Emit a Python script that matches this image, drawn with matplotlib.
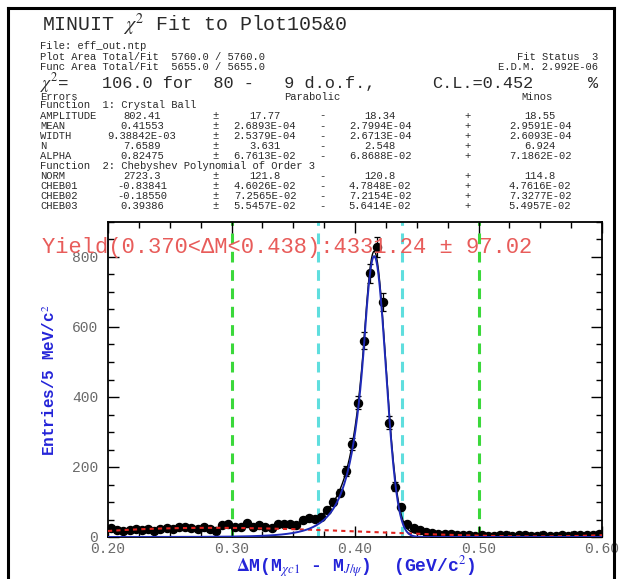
import numpy as np
import matplotlib
matplotlib.use("Agg")
import matplotlib.pyplot as plt
from matplotlib.lines import Line2D
from matplotlib.ticker import MultipleLocator

plt.rcParams['mathtext.fontset'] = 'stix'
MONO = 'Liberation Mono'

# histogram: 80 bins of 5 MeV between 0.20 and 0.60
bin_lo, bin_hi, nbins = 0.20, 0.60, 80
counts = [25, 20, 18, 20, 24, 20, 22, 18, 24, 26,
          23, 28, 29, 26, 24, 30, 23, 18, 35, 36,
          28, 30, 40, 28, 35, 30, 27, 38, 38, 37,
          35, 50, 53, 52, 58, 77, 101, 127, 189, 266,
          384, 561, 753, 829, 672, 327, 144, 85, 36, 26,
          20, 14, 11, 9, 8, 8, 7, 6, 5, 4,
          5, 3, 4, 6, 5, 4, 7, 5, 3, 4,
          5, 3, 4, 5, 4, 6, 5, 6, 7, 8]

# fit results
cb_amp, cb_mean, cb_width, cb_n, cb_alpha = 802.41, 0.41553, 9.38842e-03, 7.6589, 0.82475
cheb = [1.0, -0.83841, -0.18550, 0.39386]
func_area = 5655.0
signal_window = (0.370, 0.438)
fit_window = (0.30, 0.50)

par_names = ["AMPLITUDE", "MEAN", "WIDTH", "N", "ALPHA"]
par_vals = ["802.41", "0.41553", "9.38842E-03", "7.6589", "0.82475"]
par_err = ["17.77", "2.6893E-04", "2.5379E-04", "3.631", "6.7613E-02"]
par_lo = ["18.34", "2.7994E-04", "2.6713E-04", "2.548", "6.8688E-02"]
par_hi = ["18.55", "2.9591E-04", "2.6093E-04", "6.924", "7.1862E-02"]

bkg_names = ["NORM", "CHEB01", "CHEB02", "CHEB03"]
bkg_vals = ["2723.3", "-0.83841", "-0.18550", "0.39386"]
bkg_err = ["121.8", "4.6026E-02", "7.2565E-02", "5.5457E-02"]
bkg_lo = ["120.8", "4.7848E-02", "7.2154E-02", "5.6414E-02"]
bkg_hi = ["114.8", "4.7616E-02", "7.3277E-02", "5.4957E-02"]

yield_text = "Yield(0.370<\u0394M<0.438):4331.24 \u00b1 97.02"


def crystal_ball(x):
    t = (x - cb_mean) / cb_width
    a = abs(cb_alpha)
    A = (cb_n / a) ** cb_n * np.exp(-a * a / 2)
    B = cb_n / a - a
    core = np.exp(-t * t / 2)
    tail = A / np.power(np.maximum(B - t, 1e-9), cb_n)
    return cb_amp * np.where(t > -a, core, tail)


def cheb_shape(x):
    u = (x - 0.5 * (bin_lo + bin_hi)) / (0.5 * (bin_hi - bin_lo))
    return np.polynomial.chebyshev.chebval(u, cheb)


width = (bin_hi - bin_lo) / nbins
centers = bin_lo + width * (np.arange(nbins) + 0.5)
counts = np.array(counts, dtype=float)
# background scaled so signal + background carries the fitted function area
bkg_scale = (func_area - crystal_ball(centers).sum()) / cheb_shape(centers).sum()

xs = np.linspace(bin_lo, bin_hi, 1601)
sig = crystal_ball(xs)
bkg = bkg_scale * cheb_shape(xs)

W, H = 622, 579
fig = plt.figure(figsize=(W / 100, H / 100), dpi=100)
TXT = '#2a2a2a'


def ftext(x, y, s, **kw):
    kw.setdefault('family', MONO)
    kw.setdefault('va', 'center')
    kw.setdefault('color', TXT)
    fig.text(x / W, 1 - y / H, s, **kw)


# outer frame
for xx, yy in [([8, 8], [8, 579]), ([8, 614], [8, 8]), ([614, 614], [8, 579])]:
    fig.add_artist(Line2D(np.array(xx) / W, 1 - np.array(yy) / H, color='black',
                          lw=2.2, transform=fig.transFigure))

# fit summary block
FS = 7.6
ftext(42, 25, r"MINUIT $\chi^2$ Fit to Plot105&0", fontsize=14.3)
ftext(40, 46, "File: eff_out.ntp", fontsize=FS)
ftext(40, 57, "Plot Area Total/Fit  5760.0 / 5760.0", fontsize=FS)
ftext(40, 67, "Func Area Total/Fit  5655.0 / 5655.0", fontsize=FS)
ftext(598, 57, "Fit Status  3", fontsize=FS, ha='right')
ftext(598, 67, "E.D.M. 2.992E-06", fontsize=FS, ha='right')
ftext(40, 83, r"$\chi^2$=", fontsize=12.5)
ftext(102, 83.5, "106.0 for  80 -   9 d.o.f.,", fontsize=12.2)
ftext(432, 83.5, "C.L.=0.452", fontsize=12.2)
ftext(598, 83.5, "%", fontsize=12.2, ha='right')
ftext(40, 96.5, "Errors", fontsize=FS)
ftext(312, 96.5, "Parabolic", fontsize=FS, ha='center')
ftext(537, 96.5, "Minos", fontsize=FS, ha='center')

# column positions of the parameter table (pixels)
col_val, col_pm, col_err, col_m, col_lo, col_p, col_hi = 142, 216, 265, 322, 380, 468, 540


def table_row(y, name, val, err, lo, hi):
    ftext(40, y, name, fontsize=FS)
    ftext(col_val, y, val, fontsize=FS, ha='center')
    ftext(col_pm, y, "\u00b1", fontsize=FS, ha='center')
    ftext(col_err, y, err, fontsize=FS, ha='center')
    ftext(col_m, y, "-", fontsize=FS, ha='center')
    ftext(col_lo, y, lo, fontsize=FS, ha='center')
    ftext(col_p, y, "+", fontsize=FS, ha='center')
    ftext(col_hi, y, hi, fontsize=FS, ha='center')


y = 105.5
ftext(40, y, "Function  1: Crystal Ball", fontsize=FS)
for i in range(len(par_names)):
    y += 10.1
    table_row(y, par_names[i], par_vals[i], par_err[i], par_lo[i], par_hi[i])
y += 10.1
ftext(40, y, "Function  2: Chebyshev Polynomial of Order 3", fontsize=FS)
for i in range(len(bkg_names)):
    y += 10.1
    table_row(y, bkg_names[i], bkg_vals[i], bkg_err[i], bkg_lo[i], bkg_hi[i])

# main plot
ax = fig.add_axes([108 / W, 1 - 537 / H, (602 - 108) / W, (537 - 222) / H])
ax.set_xlim(bin_lo, bin_hi)
ax.set_ylim(0, 900)

for xv in fit_window:
    ax.axvline(xv, color='#3bd83b', lw=2.2, ls=(0, (3.5, 2.5)), zorder=1)
for xv in signal_window:
    ax.axvline(xv, color='#5fdede', lw=2.2, ls=(0, (3.5, 2.5)), zorder=1)

ax.errorbar(centers, counts, yerr=np.sqrt(counts), fmt='o', color='black', ms=5.8,
            elinewidth=0.9, capsize=2.5, capthick=0.9, zorder=3)
ax.plot(xs, sig + bkg, color='black', lw=1.0, zorder=4)
ax.plot(xs, sig, color='#1f2ab8', lw=1.4, zorder=5)
ax.plot(xs, bkg, color='#e0241f', lw=1.5, ls=(0, (2, 2)), zorder=4)

ax.xaxis.set_minor_locator(MultipleLocator(0.025))
ax.yaxis.set_minor_locator(MultipleLocator(50))
ax.tick_params(which='both', direction='in', top=True, right=True, width=1.0,
               colors='black', labelcolor='#6a6a6a')
ax.tick_params(which='major', length=8, labelsize=10.5)
ax.tick_params(axis='x', which='major', pad=3.5)
ax.tick_params(axis='y', which='major', pad=7)
ax.tick_params(which='minor', length=4.5)
xt = [0.2, 0.3, 0.4, 0.5, 0.6]
ax.set_xticks(xt)
ax.set_xticklabels([f"{v:.2f}" for v in xt], family=MONO)
yt = [0, 200, 400, 600, 800]
ax.set_yticks(yt)
ax.set_yticklabels([str(v) for v in yt], family=MONO)
for s in ax.spines.values():
    s.set_linewidth(1.3)

ftext(42, 248, yield_text, fontsize=15.9, color='#e85c5a')

ftext(50, 380, r"Entries/5 MeV/c$^2$", fontsize=11.5, color='#2424d8',
      weight='bold', rotation=90, ha='center')
ftext(356, 567, r"$\mathbf{\Delta}$M(M$_{\chi c1}$ - M$_{J/\psi}$)  (GeV/c$^2$)",
      fontsize=13, color='#2424d8', weight='bold', ha='center')

fig.savefig("out.png", dpi=100)
